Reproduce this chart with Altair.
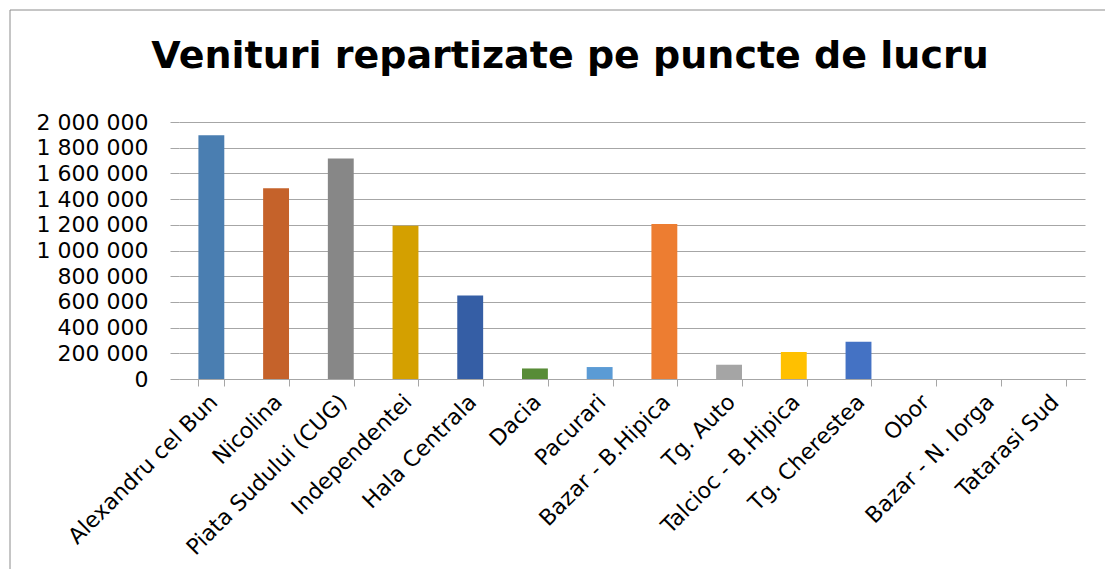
import altair as alt
import pandas as pd

categories = ["Alexandru cel Bun", "Nicolina", "Piata Sudului (CUG)", "Independentei",
              "Hala Centrala", "Dacia", "Pacurari", "Bazar - B.Hipica", "Tg. Auto",
              "Talcioc - B.Hipica", "Tg. Cherestea", "Obor", "Bazar - N. Iorga", "Tatarasi Sud"]
venituri = [1897000, 1485000, 1715000, 1193000, 650000, 82000, 93000, 1207000,
            111000, 210000, 290000, 0, 0, 0]
colors = ["#4A7EB1", "#C5622A", "#878787", "#D4A000", "#355EA5", "#588C37", "#5B9BD5",
          "#ED7D31", "#A5A5A5", "#FFC000", "#4472C4", "#70AD47", "#255E91", "#9E480E"]
y_ticks = list(range(0, 2000001, 200000))
title_text = "Venituri repartizate pe puncte de lucru"

df = pd.DataFrame({"punct": categories, "venit": venituri})

FONT = "DejaVu Sans"
GRID = "#A6A6A6"

bars = alt.Chart(df).mark_bar().encode(
    x=alt.X("punct:N", sort=categories,
            scale=alt.Scale(paddingInner=0.6, paddingOuter=0.3),
            axis=alt.Axis(title=None, labelAngle=-45, labelFont=FONT, labelFontSize=22,
                          labelColor="#000000", tickBand="extent", tickSize=7, labelLimit=0,
                          tickColor=GRID, domainColor=GRID, labelPadding=5, labelOffset=-5)),
    y=alt.Y("venit:Q", scale=alt.Scale(domain=[0, 2000000], nice=False),
            axis=alt.Axis(title=None, values=y_ticks, labelFont=FONT, labelFontSize=22,
                          labelColor="#000000", domain=False, tickSize=9, tickColor=GRID,
                          gridColor=GRID, gridWidth=1.2, labelPadding=22,
                          labelExpr="replace(format(datum.value, ','), regexp(',', 'g'), ' ')")),
    color=alt.Color("punct:N", sort=categories,
                    scale=alt.Scale(domain=categories, range=colors), legend=None),
)

frame_df = pd.DataFrame({"a": [0]})
left_line = alt.Chart(frame_df).mark_rule(color="#8C8C8C", strokeWidth=1).encode(
    x=alt.value(-169), y=alt.value(-112), y2=alt.value(449))
top_line = alt.Chart(frame_df).mark_rule(color="#8C8C8C", strokeWidth=1).encode(
    x=alt.value(-169), x2=alt.value(928), y=alt.value(-112))
title = alt.Chart(frame_df).mark_text(
    text=title_text, font=FONT, fontSize=38, fontWeight="bold", color="#000000",
    align="center", baseline="alphabetic").encode(x=alt.value(391), y=alt.value(-54))

chart = alt.layer(bars, left_line, top_line, title).properties(
    width=906, height=257,
    autosize=alt.AutoSizeParams(type="none"),
    padding={"left": 171, "top": 114, "right": 20, "bottom": 190},
).configure_view(stroke=None)

chart.save("out.html", embed_options={"renderer": "svg", "actions": False})
